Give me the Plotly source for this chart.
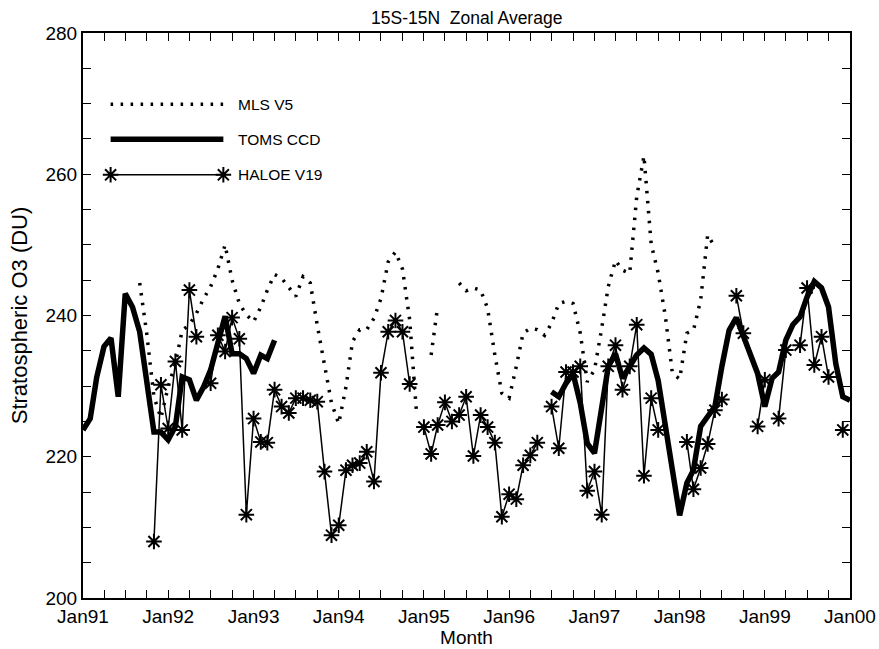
import pandas as pd
import plotly.graph_objects as go

# ---------------- data (monthly, DU) ----------------
N = None
mls_start = "1991-09-01"
mls_v5 = [244.6, 237.5, 228.5, 225.5, 229.9, 233.2, 237.9, 238.7, 240.3, 242.4,
          244.1, 246.6, 250.0, 245.0, 241.7, 240.1, 239.1, 241.2, 243.6, 245.8,
          245.3, 244.0, 242.7, 245.5, 244.6, 238.6, 233.3, 227.6, 224.7, 229.9,
          236.3, 238.0, 238.0, 239.6, 242.4, 247.6, 249.0, 246.6, 239.4, 225.9,
          N, 234.4, 241.3, N, N, 244.6, 243.5, 243.9, 243.6, 241.0,
          234.4, 229.0, 228.3, 232.8, 237.5, 238.2, 238.0, 237.2, 238.9, 241.7,
          242.0, 241.7, 237.5, 230.6, 232.3, 238.2, 244.1, 247.8, 246.4, 246.0,
          256.8, 262.6, 250.1, 246.0, 239.8, 231.8, 231.0, 237.5, 237.9, 242.2,
          251.4, 249.7]

toms_a_start = "1991-01-01"
toms_ccd_a = [223.8, 225.4, 231.3, 235.6, 236.8, 228.5, 243.1, 241.2, 237.7, 230.9,
              223.5, 223.5, 222.4, 224.3, 231.3, 230.9, 228.0, 229.9, 232.3, 236.1,
              239.9, 234.6, 234.6, 233.9, 231.8, 234.4, 233.9, 236.5]
toms_b_start = "1996-07-01"
toms_ccd_b = [229.2, 228.5, 230.4, 231.8, 227.6, 221.9, 220.5, 227.1, 232.8, 234.6,
              231.1, 232.8, 234.4, 235.4, 234.5, 230.8, 223.8, 218.1, 211.7, 216.3,
              218.1, 224.3, 225.7, 227.1, 232.8, 237.9, 239.7, 237.0, 234.2, 231.8,
              227.1, 231.1, 232.0, 236.5, 238.7, 239.8, 242.6, 244.8, 243.9, 241.2,
              233.2, 228.5, 228.0]

haloe_start = "1991-11-01"
haloe_v19 = [208.0, 230.2, 224.0, 233.5, 223.8, 243.6, 237.0, N, 230.4, 237.2,
             234.9, 239.7, 236.7, 211.8, 225.4, 222.1, 222.0, 229.5, 227.1, 226.2,
             228.3, 228.3, 228.0, 227.8, 217.9, 208.9, 210.3, 218.1, 218.8, 219.1,
             220.7, 216.5, 231.9, 237.7, 239.3, 237.7, 230.3, N, 224.2, 220.4,
             224.5, 227.7, 225.0, 225.9, 228.5, 220.1, 225.9, 224.2, 222.0, 211.5,
             214.7, 214.0, 218.8, 220.2, 222.0, N, 227.1, 221.2, 232.0, 232.0,
             232.8, 215.2, 217.9, 211.8, 232.8, 235.8, 229.5, 232.8, 238.7, 217.3,
             228.3, 223.8, N, N, N, 222.1, 215.4, 218.4, 221.8, 226.6,
             228.1, N, 242.8, 237.5, N, 224.3, 230.9, N, 225.4, 235.1,
             N, 235.8, 243.9, 233.0, 237.0, 231.3, N, 223.8]

series_names = ["MLS V5", "TOMS CCD", "HALOE V19"]
x_tick_labels = ["Jan91", "Jan92", "Jan93", "Jan94", "Jan95",
                 "Jan96", "Jan97", "Jan98", "Jan99", "Jan00"]
y_tick_values = [200, 220, 240, 260, 280]


def months(start, n):
    return pd.date_range(start, periods=n, freq="MS")


FONT = "Liberation Sans, Arial, Helvetica, sans-serif"
BLACK = "#000000"
mls_line = dict(color=BLACK, width=3.5, dash="2.5px,7.5px")
toms_line = dict(color=BLACK, width=5.5)
haloe_line = dict(color=BLACK, width=1.5)
haloe_marker = dict(symbol="asterisk-open", size=13, color=BLACK,
                    line=dict(color=BLACK, width=2))

fig = go.Figure()
fig.add_trace(go.Scatter(x=months(mls_start, len(mls_v5)), y=mls_v5, mode="lines",
                         line=mls_line, name=series_names[0], showlegend=False))
fig.add_trace(go.Scatter(x=months(toms_a_start, len(toms_ccd_a)), y=toms_ccd_a,
                         mode="lines", line=toms_line, name=series_names[1],
                         showlegend=False))
fig.add_trace(go.Scatter(x=months(toms_b_start, len(toms_ccd_b)), y=toms_ccd_b,
                         mode="lines", line=toms_line, name=series_names[1],
                         showlegend=False))
fig.add_trace(go.Scatter(x=months(haloe_start, len(haloe_v19)), y=haloe_v19,
                         mode="lines+markers", line=haloe_line, marker=haloe_marker,
                         name=series_names[2], showlegend=False))

# ---------------- hand-drawn legend (paper-like overlay axes) ----------------
leg_x = [0.036, 0.183]
leg_y = [0.874, 0.812, 0.749]
fig.add_trace(go.Scatter(x=leg_x, y=[leg_y[0]] * 2, mode="lines", line=mls_line,
                         xaxis="x2", yaxis="y2", showlegend=False, hoverinfo="skip"))
fig.add_trace(go.Scatter(x=leg_x, y=[leg_y[1]] * 2, mode="lines", line=toms_line,
                         xaxis="x2", yaxis="y2", showlegend=False, hoverinfo="skip"))
fig.add_trace(go.Scatter(x=leg_x, y=[leg_y[2]] * 2, mode="lines+markers",
                         line=haloe_line, marker=haloe_marker,
                         xaxis="x2", yaxis="y2", showlegend=False, hoverinfo="skip"))
for name, yy in zip(series_names, leg_y):
    fig.add_annotation(x=0.2, y=yy, xref="x2", yref="y2", text=name,
                       showarrow=False, xanchor="left", yanchor="middle",
                       font=dict(family=FONT, size=15.5, color=BLACK))

tick_dates = pd.date_range("1991-01-01", periods=len(x_tick_labels), freq="12MS")

fig.update_layout(
    width=879, height=649,
    margin=dict(l=83, r=29, t=33, b=51, autoexpand=False),
    paper_bgcolor="white", plot_bgcolor="white",
    font=dict(family=FONT, size=19, color=BLACK),
    title=dict(text="15S-15N\u00a0 Zonal Average", x=0.531, xanchor="center",
               y=0.972, yanchor="middle", font=dict(family=FONT, size=17.5)),
    xaxis=dict(type="date", range=["1991-01-01", "2000-01-01"], automargin=False,
               tickvals=list(tick_dates), ticktext=x_tick_labels,
               ticks="inside", ticklen=8, tickwidth=1.3, tickcolor=BLACK,
               minor=dict(dtick="M3", ticks="inside", ticklen=8, tickwidth=1.3,
                          tickcolor=BLACK, showgrid=False),
               showline=True, linewidth=2, linecolor=BLACK, mirror="ticks",
               showgrid=False, zeroline=False,
               title=dict(text="Month", standoff=4, font=dict(size=19)),
               tickfont=dict(size=19)),
    yaxis=dict(range=[200, 280], tickvals=y_tick_values, automargin=False,
               ticks="inside", ticklen=8, tickwidth=1.3, tickcolor=BLACK,
               minor=dict(dtick=5, ticks="inside", ticklen=8, tickwidth=1.3,
                          tickcolor=BLACK, showgrid=False),
               showline=True, linewidth=2, linecolor=BLACK, mirror="ticks",
               showgrid=False, zeroline=False,
               title=dict(text="Stratospheric O3 (DU)", standoff=12,
                          font=dict(size=22)),
               tickfont=dict(size=19)),
    xaxis2=dict(overlaying="x", range=[0, 1], visible=False, fixedrange=True),
    yaxis2=dict(overlaying="y", range=[0, 1], visible=False, fixedrange=True),
)

fig.write_html("out.html")
